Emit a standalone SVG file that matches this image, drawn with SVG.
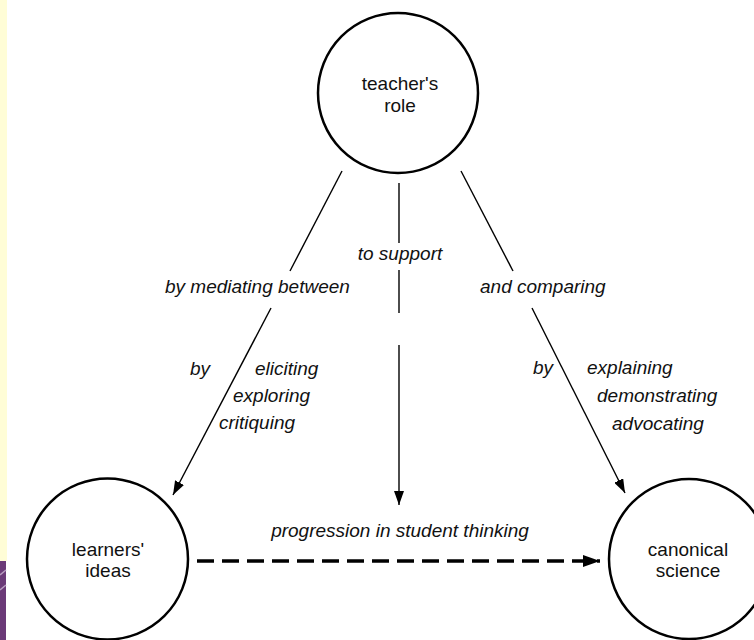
<svg xmlns="http://www.w3.org/2000/svg" width="754" height="640" viewBox="0 0 754 640">
  <defs>
    <style>
      .node { fill: #ffffff; stroke: #000000; stroke-width: 2.5; }
      .ntext { font-family: Helvetica, "Liberation Sans", Arial, sans-serif; font-size: 19px; fill: #111111; text-anchor: middle; }
      .label { font-family: Helvetica, "Liberation Sans", Arial, sans-serif; font-size: 19px; font-style: italic; fill: #111111; }
      .mid { text-anchor: middle; }
      .edge { stroke: #000000; stroke-width: 1.4; fill: none; }
      .dash { stroke: #000000; stroke-width: 3.4; fill: none; stroke-dasharray: 17 8; }
    </style>
    <marker id="arrow" viewBox="0 0 14 10" refX="14" refY="5" markerWidth="14" markerHeight="10" markerUnits="userSpaceOnUse" orient="auto">
      <path d="M0,0 L14,5 L0,10 Z" fill="#000000"/>
    </marker>
    <marker id="arrowBig" viewBox="0 0 17 12" refX="17" refY="6" markerWidth="17" markerHeight="12" markerUnits="userSpaceOnUse" orient="auto">
      <path d="M0,0 L17,6 L0,12 Z" fill="#000000"/>
    </marker>
  </defs>

  <rect x="0" y="0" width="754" height="640" fill="#ffffff"/>

  <!-- slide margin strip -->
  <rect x="0" y="0" width="7" height="561" fill="#fffdd6"/>
  <rect x="0" y="561" width="6" height="79" fill="#6b3a78"/>
  <path d="M0,575 L6,570 M0,590 L6,585" stroke="#b89cc0" stroke-width="1.5"/>

  <!-- connectors -->
  <g id="connectors">
    <!-- teacher's role to learners' ideas -->
    <line class="edge" x1="342" y1="171" x2="290" y2="271"/>
    <line class="edge" x1="271" y1="308" x2="173" y2="495" marker-end="url(#arrow)"/>
    <!-- teacher's role to progression -->
    <line class="edge" x1="399" y1="183" x2="399" y2="243"/>
    <line class="edge" x1="399" y1="270" x2="399" y2="313"/>
    <line class="edge" x1="399" y1="345" x2="399" y2="505" marker-end="url(#arrow)"/>
    <!-- teacher's role to canonical science -->
    <line class="edge" x1="461" y1="171" x2="513" y2="271"/>
    <line class="edge" x1="532" y1="308" x2="625" y2="493" marker-end="url(#arrow)"/>
    <!-- progression from learners' ideas to canonical science -->
    <line class="dash" x1="197" y1="561" x2="600" y2="561" marker-end="url(#arrowBig)"/>
  </g>

  <!-- connector labels -->
  <g id="labels">
    <text class="label" x="165" y="293">by mediating between</text>
    <text class="label mid" x="400" y="260">to support</text>
    <text class="label" x="480" y="293">and comparing</text>

    <text class="label" x="190" y="375">by</text>
    <text class="label" x="255" y="375">eliciting</text>
    <text class="label" x="233" y="402">exploring</text>
    <text class="label" x="219" y="429">critiquing</text>

    <text class="label" x="533" y="374">by</text>
    <text class="label" x="587" y="374">explaining</text>
    <text class="label" x="597" y="402">demonstrating</text>
    <text class="label" x="612" y="430">advocating</text>

    <text class="label mid" x="400" y="537">progression in student thinking</text>
  </g>

  <!-- nodes -->
  <g id="teachers-role">
    <circle class="node" cx="398" cy="93" r="80"/>
    <text class="ntext" x="400" y="90">teacher's</text>
    <text class="ntext" x="400" y="112">role</text>
  </g>

  <g id="learners-ideas">
    <circle class="node" cx="107.5" cy="559" r="80.5"/>
    <text class="ntext" x="108" y="556">learners'</text>
    <text class="ntext" x="108" y="577">ideas</text>
  </g>

  <g id="canonical-science">
    <circle class="node" cx="689" cy="559" r="80"/>
    <text class="ntext" x="688" y="556">canonical</text>
    <text class="ntext" x="688" y="577">science</text>
  </g>
</svg>
